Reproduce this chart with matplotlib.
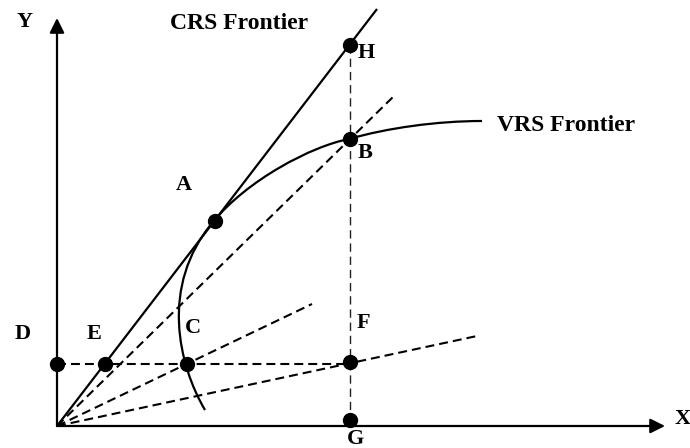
import matplotlib
matplotlib.use("Agg")
import matplotlib.pyplot as plt
from matplotlib.path import Path
from matplotlib.patches import PathPatch

# named points of the diagram (origin at 0,0)
point_names = ["A", "B", "C", "D", "E", "F", "G", "H"]
point_x = [158, 293, 130, 0, 48, 293, 293, 293]
point_y = [205, 287, 62, 62, 62, 64, 6, 381]

# CRS frontier: ray from origin
crs_x = [0, 320]
crs_y = [0, 417]

# dashed rays from the origin through B, C, F
ray_end_x = [337, 255, 420]
ray_end_y = [330, 122, 90]

# VRS frontier (cubic bezier control points)
vrs_x = [148, 122, 102, 156, 190, 255, 292, 330, 380, 425]
vrs_y = [16, 60, 140, 204, 246, 280, 287, 298, 305, 305]

# axis lengths
x_axis_end = 608
y_axis_end = 408

# label positions
label_text = ["Y", "CRS Frontier", "H", "VRS Frontier", "B", "A", "D", "E", "C", "F", "G", "X"]
label_x = [-32, 182, 301, 440, 301, 127, -34, 37, 136, 300, 299, 618]
label_y = [404, 403, 373, 301, 273, 241, 92, 92, 98, 103, -13, 7]
label_ha = ["center", "center", "left", "left", "left", "center", "center", "center", "center", "left", "center", "left"]
label_size = [16, 17, 16, 17, 16, 16, 16, 16, 16, 16, 16, 16]

fig = plt.figure(figsize=(6.9, 4.48), dpi=100)
ax = fig.add_axes([0, 0, 1, 1])
ax.set_xlim(-57, 633)
ax.set_ylim(-22, 426)
ax.axis("off")

# axes with arrows
arrow = dict(arrowstyle="-|>", color="black", lw=1.6, mutation_scale=22, shrinkA=0, shrinkB=0)
ax.annotate("", xy=(x_axis_end, 0), xytext=(0, 0), arrowprops=arrow)
ax.annotate("", xy=(0, y_axis_end), xytext=(0, 0), arrowprops=arrow)

# CRS frontier
ax.plot(crs_x, crs_y, color="black", lw=1.6, solid_capstyle="butt")

# VRS frontier curve
codes = [Path.MOVETO] + [Path.CURVE4] * (len(vrs_x) - 1)
vrs_path = Path(list(zip(vrs_x, vrs_y)), codes)
ax.add_patch(PathPatch(vrs_path, facecolor="none", edgecolor="black", lw=1.6))

dash = (0, (4.3, 2.4))
for ex, ey in zip(ray_end_x, ray_end_y):
    ax.plot([0, ex], [0, ey], color="black", lw=1.5, linestyle=dash)

pts = dict(zip(point_names, zip(point_x, point_y)))

# horizontal D -> F
ax.plot([pts["D"][0], pts["F"][0]], [pts["D"][1], pts["D"][1]], color="black", lw=1.5, linestyle=dash)
# vertical H -> G
ax.plot([pts["H"][0], pts["G"][0]], [pts["H"][1], pts["G"][1]], color="#222222", lw=1.0,
        linestyle=(0, (6, 3.5)))

ax.plot(point_x, point_y, "o", color="black", markersize=10, zorder=5)

for t, x, y, ha, s in zip(label_text, label_x, label_y, label_ha, label_size):
    ax.text(x, y, t, ha=ha, va="center", fontsize=s, fontweight="bold",
            family="Liberation Serif")

fig.savefig("out.png", dpi=100)
